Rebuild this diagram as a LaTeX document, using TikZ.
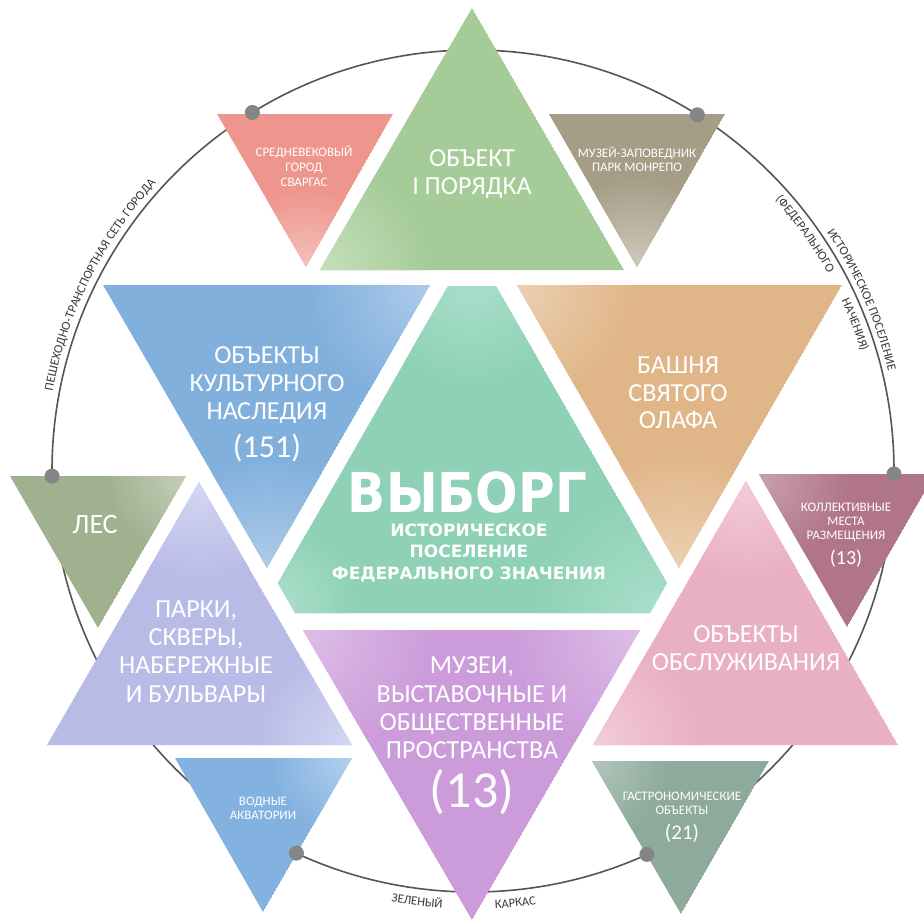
\documentclass[tikz,border=0pt]{standalone}
\usepackage{fontspec}
\usepackage{graphicx}
\setmainfont{Carlito}
\newfontfamily\dvs{DejaVu Sans}
\usetikzlibrary{decorations.text}
\definecolor{cTG}{HTML}{A5CB99}\definecolor{cTGl}{HTML}{C6DFBB}
\definecolor{cC}{HTML}{8ED1B6}\definecolor{cCl}{HTML}{A9DECA}
\definecolor{cKU}{HTML}{82B0DD}\definecolor{cKUl}{HTML}{AECBEA}
\definecolor{cOR}{HTML}{E0B587}\definecolor{cORl}{HTML}{ECD0B2}
\definecolor{cPA}{HTML}{B9BBE7}\definecolor{cPAl}{HTML}{D4D6F2}
\definecolor{cPU}{HTML}{CC9CDA}\definecolor{cPUl}{HTML}{DDBEE7}
\definecolor{cPI}{HTML}{E9AFC4}\definecolor{cPIl}{HTML}{F2CCDA}
\definecolor{cRE}{HTML}{EE958D}\definecolor{cREl}{HTML}{F4C0BA}
\definecolor{cGR}{HTML}{A59D86}\definecolor{cGRl}{HTML}{D0CABE}
\definecolor{cLE}{HTML}{A0B190}\definecolor{cLEl}{HTML}{C4CEB8}
\definecolor{cMA}{HTML}{B07589}\definecolor{cMAl}{HTML}{C9A0AF}
\definecolor{cWA}{HTML}{84B2E0}\definecolor{cWAl}{HTML}{B4D0EE}
\definecolor{cGA}{HTML}{8DAA9C}\definecolor{cGAl}{HTML}{B2C5BC}
\definecolor{circgray}{HTML}{555555}
\definecolor{dotgray}{HTML}{858585}
\definecolor{arctext}{HTML}{3A3A3A}
\newcommand{\fbig}{\fontsize{26}{28}\selectfont}
\newcommand{\fsmall}{\fontsize{13}{14}\selectfont}
\newcommand{\arcf}{\fontsize{12.6}{12.6}\selectfont}
\newcommand{\glow}[4]{\shade[inner color=#3, outer color=#4] #1 circle (#2);}
\newcommand{\tri}[5]{\begin{scope}\clip #1 -- #2 -- #3 -- cycle;\fill[#4] #1 -- #2 -- #3 -- cycle;#5\end{scope}}
\tikzset{
  lbl/.style={text=white, inner sep=0pt, anchor=base},
  circline/.style={draw=circgray, line width=1.6pt},
  dotstyle/.style={fill=dotgray},
  arclbl/.style={decorate, decoration={text along path, text align=center, text color=arctext, text={|\arcf|#1}}}
}
\begin{document}
\begin{tikzpicture}[x=1pt,y=-1pt]
\useasboundingbox (0,0) rectangle (924,919);
\fill[white] (0,0) rectangle (924,919);
\coordinate (cc) at (473,471);
% central green
\begin{scope}
\clip (448,286) -- (496,286) -- (667,583) -- (650,613) -- (295,613) -- (278,583) -- cycle;
\fill[cC] (448,286) -- (496,286) -- (667,583) -- (650,613) -- (295,613) -- (278,583) -- cycle;
\glow{(472,286)}{100pt}{cCl}{cC}
\glow{(655,613)}{120pt}{cCl}{cC}
\glow{(285,600)}{70pt}{cCl}{cC}
\end{scope}
% circle
\draw[circline] (cc) circle (421pt);
% big triangles
\tri{(320,270)}{(472,8)}{(624,270)}{cTG}{\glow{(320,270)}{110pt}{cTGl}{cTG}}
\tri{(103,285)}{(430,285)}{(267,568)}{cKU}{\glow{(430,285)}{120pt}{cKUl}{cKU}\glow{(267,568)}{110pt}{cKUl}{cKU}}
\tri{(517,285)}{(842,285)}{(679,568)}{cOR}{\glow{(517,285)}{120pt}{cORl}{cOR}\glow{(679,568)}{120pt}{cORl}{cOR}}
\tri{(47,745)}{(199,482)}{(352,745)}{cPA}{\glow{(199,482)}{100pt}{cPAl}{cPA}\glow{(352,745)}{100pt}{cPAl}{cPA}}
\tri{(303,630)}{(640,630)}{(472,920)}{cPU}{\glow{(303,630)}{130pt}{cPUl}{cPU}\glow{(640,630)}{130pt}{cPUl}{cPU}}
\tri{(593,745)}{(746,481)}{(898,745)}{cPI}{\glow{(746,481)}{100pt}{cPIl}{cPI}\glow{(593,745)}{110pt}{cPIl}{cPI}}
% small triangles
\tri{(217,114)}{(393,114)}{(306,267)}{cRE}{\glow{(306,267)}{80pt}{cREl}{cRE}}
\tri{(549,114)}{(725,114)}{(637,267)}{cGR}{\glow{(637,267)}{90pt}{cGRl}{cGR}}
\tri{(10,476)}{(186,476)}{(98,628)}{cLE}{\glow{(186,476)}{80pt}{cLEl}{cLE}}
\tri{(759,474)}{(935,474)}{(847,627)}{cMA}{\glow{(759,474)}{90pt}{cMAl}{cMA}}
\tri{(175,758)}{(352,758)}{(263,912)}{cWA}{\glow{(352,758)}{80pt}{cWAl}{cWA}}
\tri{(592,761)}{(769,761)}{(681,914)}{cGA}{\glow{(592,761)}{80pt}{cGAl}{cGA}}
% dots
\foreach \a in {121.6,57.8,180.7,359.6,245.2,294.4}
  \fill[dotstyle] ([shift={(\a:421pt)}]cc) circle (7.5pt);
% labels on the circle
\path[arclbl={ПЕШЕХОДНО-ТРАНСПОРТНАЯ СЕТЬ ГОРОДА}] ([shift={(176:428pt)}]cc) arc[start angle=176, end angle=131, radius=428pt];
\path[arclbl={ИСТОРИЧЕСКОЕ ПОСЕЛЕНИЕ}] ([shift={(45:427pt)}]cc) arc[start angle=45, end angle=2.5, radius=427pt];
\path[arclbl={(ФЕДЕРАЛЬНОГО}] ([shift={(50:406pt)}]cc) arc[start angle=50, end angle=21, radius=406pt];
\path[arclbl={НАЧЕНИЯ)}] ([shift={(30:406pt)}]cc) arc[start angle=30, end angle=12, radius=406pt];
\path[arclbl={ЗЕЛЕНЫЙ}] ([shift={(252:438pt)}]cc) arc[start angle=252, end angle=273.2, radius=438pt];
\path[arclbl={КАРКАС}] ([shift={(268:438pt)}]cc) arc[start angle=268, end angle=283.2, radius=438pt];
% texts
\node[lbl, font=\fbig] (tg1) at (472,166) {ОБЪЕКТ};
\node[lbl, font=\fbig] (tg2) at (472,194) {I ПОРЯДКА};
\node[lbl, font=\fbig] (ku1) at (267,363) {ОБЪЕКТЫ};
\node[lbl, font=\fbig] (ku2) at (267,391) {КУЛЬТУРНОГО};
\node[lbl, font=\fbig] (ku3) at (267,419) {НАСЛЕДИЯ};
\node[lbl, font=\fontsize{32}{32}\selectfont] (ku4) at (267,457) {(151)};
\node[lbl, font=\fbig] (or1) at (678,373) {БАШНЯ};
\node[lbl, font=\fbig] (or2) at (678,401) {СВЯТОГО};
\node[lbl, font=\fbig] (or3) at (678,428) {ОЛАФА};
\node[lbl] (vyb) at (467.5,512) {\scalebox{0.91}[1]{\dvs\bfseries\fontsize{55}{55}\selectfont ВЫБОРГ}};
\node[lbl, font=\dvs\bfseries\fontsize{17}{17}\selectfont] (vs1) at (469,536) {ИСТОРИЧЕСКОЕ};
\node[lbl, font=\dvs\bfseries\fontsize{17}{17}\selectfont] (vs2) at (469,557) {ПОСЕЛЕНИЕ};
\node[lbl, font=\dvs\bfseries\fontsize{17}{17}\selectfont] (vs3) at (469,579) {ФЕДЕРАЛЬНОГО ЗНАЧЕНИЯ};
\node[lbl, font=\fbig] (pa1) at (196,617) {ПАРКИ,};
\node[lbl, font=\fbig] (pa2) at (196,645) {СКВЕРЫ,};
\node[lbl, font=\fbig] (pa3) at (196,673) {НАБЕРЕЖНЫЕ};
\node[lbl, font=\fbig] (pa4) at (196,702) {И БУЛЬВАРЫ};
\node[lbl, font=\fontsize{28}{28}\selectfont] (le1) at (95,533) {ЛЕС};
\node[lbl, font=\fbig] (pu1) at (472,673) {МУЗЕИ,};
\node[lbl, font=\fbig] (pu2) at (472,702) {ВЫСТАВОЧНЫЕ И};
\node[lbl, font=\fbig] (pu3) at (472,730) {ОБЩЕСТВЕННЫЕ};
\node[lbl, font=\fbig] (pu4) at (472,758) {ПРОСТРАНСТВА};
\node[lbl, font=\fontsize{52}{52}\selectfont] (pu5) at (472,807) {(13)};
\node[lbl, font=\fbig] (pi1) at (746,642) {ОБЪЕКТЫ};
\node[lbl, font=\fbig] (pi2) at (746,670) {ОБСЛУЖИВАНИЯ};
\node[lbl, font=\fsmall] (re1) at (304,156) {СРЕДНЕВЕКОВЫЙ};
\node[lbl, font=\fsmall] (re2) at (304,171) {ГОРОД};
\node[lbl, font=\fsmall] (re3) at (304,186) {СВАРГАС};
\node[lbl, font=\fsmall] (gr1) at (637,157) {МУЗЕЙ-ЗАПОВЕДНИК};
\node[lbl, font=\fsmall] (gr2) at (637,171) {ПАРК МОНРЕПО};
\node[lbl, font=\fsmall] (ma1) at (846,511) {КОЛЛЕКТИВНЫЕ};
\node[lbl, font=\fsmall] (ma2) at (846,525) {МЕСТА};
\node[lbl, font=\fsmall] (ma3) at (846,539) {РАЗМЕЩЕНИЯ};
\node[lbl, font=\fontsize{20}{20}\selectfont] (ma4) at (846,564) {(13)};
\node[lbl, font=\fsmall] (wa1) at (263,805) {ВОДНЫЕ};
\node[lbl, font=\fsmall] (wa2) at (263,819) {АКВАТОРИИ};
\node[lbl, font=\fsmall] (ga1) at (682,800) {ГАСТРОНОМИЧЕСКИЕ};
\node[lbl, font=\fsmall] (ga2) at (682,814) {ОБЪЕКТЫ};
\node[lbl, font=\fontsize{21}{21}\selectfont] (ga3) at (682,839) {(21)};
\end{tikzpicture}
\end{document}
